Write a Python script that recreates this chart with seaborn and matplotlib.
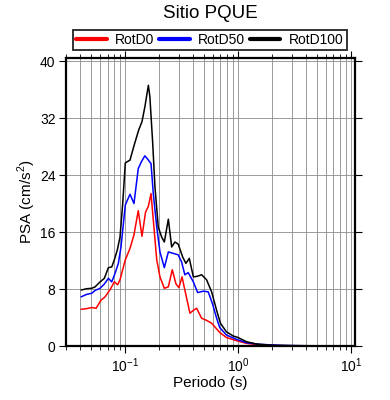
import numpy as np
import pandas as pd
import matplotlib
matplotlib.use("Agg")
import matplotlib.pyplot as plt
import seaborn as sns

title = "Sitio PQUE"
labels = ["RotD0", "RotD50", "RotD100"]
colors = ["#ff0000", "#0000ff", "#000000"]

period_d0 = [0.0408, 0.0458, 0.0507, 0.0555, 0.061, 0.0665, 0.0737, 0.0804, 0.0861, 0.0903,
             0.1006, 0.1107, 0.120, 0.131, 0.1414, 0.152, 0.161, 0.170, 0.178, 0.191,
             0.204, 0.223, 0.242, 0.262, 0.283, 0.300, 0.320, 0.344, 0.376, 0.403,
             0.431, 0.477, 0.528, 0.585, 0.648, 0.69, 0.79, 0.97, 1.19, 1.57,
             2.0, 3.0, 5.0, 10.0]
rotd0 = [5.15, 5.25, 5.4, 5.3, 6.4, 6.9, 7.9, 9.0, 8.6, 9.3,
         12.1, 13.7, 15.6, 19.0, 15.4, 18.8, 19.6, 21.4, 17.7, 12.1,
         9.7, 8.1, 8.3, 10.7, 8.7, 8.2, 9.7, 7.4, 4.6, 5.0,
         5.3, 3.9, 3.6, 3.2, 2.4, 1.9, 1.2, 0.75, 0.37, 0.14,
         0.07, 0.03, 0.01, 0.0]

period_d50 = [0.0408, 0.0458, 0.0507, 0.0543, 0.0601, 0.0656, 0.0712, 0.0763, 0.0816, 0.0873,
              0.0921, 0.1006, 0.1107, 0.120, 0.131, 0.140, 0.150, 0.161, 0.170, 0.178,
              0.191, 0.204, 0.223, 0.242, 0.268, 0.296, 0.317, 0.339, 0.363, 0.403,
              0.440, 0.494, 0.546, 0.596, 0.648, 0.69, 0.79, 0.97, 1.19, 1.57,
              2.5, 4.0, 10.0]
rotd50 = [6.9, 7.25, 7.4, 7.8, 8.1, 8.7, 9.5, 9.0, 10.2, 11.6,
          13.9, 19.8, 21.3, 20.0, 24.9, 25.9, 26.7, 26.1, 25.6, 21.4,
          16.7, 13.2, 11.0, 13.2, 13.0, 12.8, 11.8, 10.0, 10.3, 9.0,
          7.5, 7.7, 7.6, 5.9, 3.9, 2.6, 1.55, 0.94, 0.46, 0.23,
          0.08, 0.03, 0.0]

period_d100 = [0.0408, 0.0458, 0.0507, 0.0543, 0.0601, 0.0656, 0.0712, 0.0763, 0.0804, 0.0855,
               0.0903, 0.0954, 0.1006, 0.1107, 0.120, 0.132, 0.1414, 0.150, 0.161, 0.166,
               0.176, 0.184, 0.197, 0.211, 0.223, 0.242, 0.259, 0.277, 0.296, 0.324,
               0.346, 0.371, 0.403, 0.440, 0.477, 0.528, 0.585, 0.648, 0.70, 0.79,
               0.91, 1.0, 1.19, 1.46, 2.04, 3.3, 10.0]
rotd100 = [7.86, 8.04, 8.1, 8.3, 9.0, 9.5, 11.0, 11.1, 12.1, 13.5,
           15.3, 20.0, 25.7, 26.1, 28.1, 30.3, 31.5, 33.6, 36.6, 35.0,
           28.4, 22.4, 16.7, 15.3, 14.6, 17.8, 13.9, 14.6, 14.3, 12.5,
           11.6, 12.3, 9.7, 9.8, 10.0, 9.3, 7.6, 5.0, 3.2, 2.0,
           1.4, 1.2, 0.6, 0.28, 0.1, 0.05, 0.0]

yticks = [0, 8, 16, 24, 32, 40]

df = pd.concat([
    pd.DataFrame({"Periodo": period_d0, "PSA": rotd0, "Componente": labels[0]}),
    pd.DataFrame({"Periodo": period_d50, "PSA": rotd50, "Componente": labels[1]}),
    pd.DataFrame({"Periodo": period_d100, "PSA": rotd100, "Componente": labels[2]}),
], ignore_index=True)

sns.set_style("ticks")
plt.rcParams["font.family"] = ["Liberation Sans", "DejaVu Sans"]
plt.rcParams["mathtext.fontset"] = "custom"
plt.rcParams["mathtext.rm"] = "Liberation Sans"
plt.rcParams["text.color"] = "black"
plt.rcParams["axes.labelcolor"] = "black"
plt.rcParams["xtick.labelcolor"] = "black"
plt.rcParams["ytick.labelcolor"] = "black"

fig = plt.figure(figsize=(3.9, 4.0), dpi=100)
ax = fig.add_axes([66 / 390, 54 / 400, 289 / 390, 288.5 / 400])

sns.lineplot(data=df, x="Periodo", y="PSA", hue="Componente",
             palette=dict(zip(labels, colors)), estimator=None, sort=False,
             linewidth=1.1, ax=ax, legend=False)

ax.set_xscale("log")
ax.set_xlim(0.03, 10.9)
ax.set_ylim(0, 40.5)
ax.set_yticks(yticks)
ax.set_yticklabels([str(t) for t in yticks])
ax.set_xticks([0.1, 1, 10])
ax.set_xticklabels([r"$10^{-1}$", r"$10^{0}$", r"$10^{1}$"])
ax.xaxis.set_minor_locator(matplotlib.ticker.LogLocator(base=10, subs=np.arange(2, 10)))
ax.xaxis.set_minor_formatter(matplotlib.ticker.NullFormatter())

ax.grid(True, which="both", axis="x", color="#8a8a8a", linewidth=0.6)
ax.grid(True, which="major", axis="y", color="#8a8a8a", linewidth=0.6)

for s in ax.spines.values():
    s.set_linewidth(1.6)
    s.set_color("black")
ax.tick_params(which="both", direction="out", top=True, right=True, color="black", labelsize=10)
ax.tick_params(which="major", length=5, width=0.8, pad=2.5)
ax.tick_params(which="minor", length=3, width=0.6)

ax.set_xlabel("Periodo (s)", fontsize=11, labelpad=1)
ax.set_ylabel(r"PSA (cm/s$^2$)", fontsize=11, labelpad=1.5)

fig.text(0.54, 1 - 14 / 400, title, ha="center", va="center", fontsize=13.5)

handles = [matplotlib.lines.Line2D([], [], color=c, linewidth=3) for c in colors]
leg = fig.legend(handles, labels, loc="center", ncol=3, mode="expand",
                 bbox_to_anchor=(73 / 390, 1 - 52 / 400, 274 / 390, 24 / 400),
                 frameon=True, fancybox=False, edgecolor="black", fontsize=10,
                 handlelength=2.2, handletextpad=0.6, borderpad=0.25, borderaxespad=0)
leg.get_frame().set_linewidth(1.4)

fig.savefig("out.png", dpi=100)
